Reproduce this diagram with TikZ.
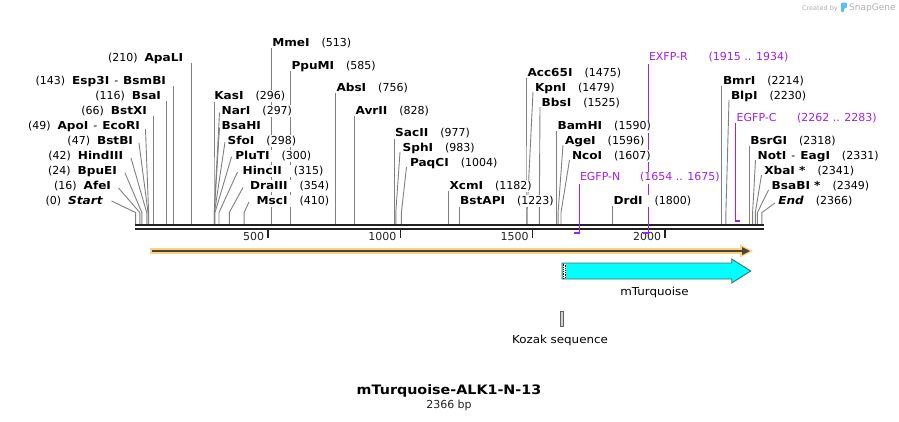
\documentclass[tikz,border=0pt]{standalone}
\usepackage{fontspec}
\setmainfont{DejaVu Sans}[BoldFeatures={FakeStretch=1.1},BoldItalicFeatures={FakeStretch=1.1}]
\newfontfamily\widefont{DejaVu Sans}[FakeStretch=1.08]
\definecolor{enzgray}{RGB}{128,128,128}
\definecolor{bbc}{RGB}{34,34,34}
\definecolor{primc}{RGB}{160,32,240}
\definecolor{orangec}{RGB}{250,210,128}
\definecolor{darkline}{RGB}{75,68,60}
\definecolor{cyanc}{RGB}{0,255,255}
\definecolor{cyanedge}{RGB}{70,110,110}
\definecolor{logoc}{RGB}{175,175,175}
\definecolor{logob}{RGB}{90,190,240}
\tikzset{
  lbl/.style={font=\fontsize{11}{13}\selectfont, inner sep=0.8pt, fill=white, text height=8.2pt, text depth=2.3pt},
  plbl/.style={lbl, text=primc},
  flbl/.style={font=\widefont\fontsize{11}{13}\selectfont, inner sep=0pt},
  enz/.style={draw=enzgray, line width=0.9pt},
  bb/.style={draw=bbc, line width=2.2pt},
  tickmark/.style={draw=bbc, line width=1.6pt},
  ticklbl/.style={font=\fontsize{11}{13}\selectfont, inner sep=0pt, text=bbc},
  primv/.style={draw=primc, line width=1.1pt},
  primh/.style={draw=primc, line width=2pt},
}
\newcommand{\mycut}[4]{\coordinate (c#1) at (#2,224); \coordinate (t#1) at (#3,#4); \draw[enz] (c#1) -- (#2,212.5) -- (t#1);}
\newcommand{\mylabL}[4]{\node[lbl,anchor=base east] (l#1) at (#2,#3+4) {#4};}
\newcommand{\mylabR}[4]{\node[lbl,anchor=base west] (l#1) at (#2,#3+4) {#4};}
\newcommand{\nmgap}{\hspace{12pt}}
\newcommand{\lgap}{\hspace{7pt}}
\newcommand{\dsh}{\hspace{5pt}-\hspace{5pt}}
\begin{document}
\begin{tikzpicture}[x=1pt,y=-1pt]
\useasboundingbox (0,0) rectangle (899,421);

% ---------- enzyme site lines ----------
\mycut{Start}{135.6}{111.5}{201}
\mycut{AfeI}{139.8}{118.5}{188}
\mycut{BpuEI}{141.9}{125}{173}
\mycut{HindIII}{146.7}{131}{158}
\mycut{BstBI}{148.0}{139}{143}
\mycut{ApoI}{148.6}{145.5}{129}
\mycut{BstXI}{153.1}{153.1}{116}
\mycut{BsaI}{166.3}{166.3}{101}
\mycut{Esp3I}{173.5}{173.5}{86}
\mycut{ApaLI}{191.2}{191.2}{63}
\mycut{KasI}{214.0}{214.0}{101}
\mycut{NarI}{214.2}{219.5}{112.5}
\mycut{BsaHI}{214.3}{219.5}{127.5}
\mycut{SfoI}{214.5}{225}{142}
\mycut{PluTI}{215.0}{231.5}{157}
\mycut{HincII}{219.0}{237.5}{172}
\mycut{DraIII}{229.3}{243}{187.5}
\mycut{MscI}{244.1}{249}{202}
\mycut{MmeI}{271.4}{271.4}{48}
\mycut{PpuMI}{290.5}{290.5}{71}
\mycut{AbsI}{335.7}{335.7}{93}
\mycut{AvrII}{354.8}{354.8}{116}
\mycut{SacII}{394.2}{394.2}{138}
\mycut{SphI}{395.8}{400}{152}
\mycut{PaqCI}{401.4}{406.5}{167}
\mycut{XcmI}{448.5}{448.5}{191}
\mycut{BstAPI}{459.3}{459.3}{206}
\mycut{Acc65I}{526.0}{526.0}{78}
\mycut{KpnI}{527.1}{533}{92}
\mycut{BbsI}{539.3}{540}{107}
\mycut{BamHI}{556.5}{556.5}{131}
\mycut{AgeI}{558.1}{563}{145}
\mycut{NcoI}{561.0}{569.5}{160}
\mycut{DrdI}{612.1}{612.1}{206}
\mycut{BmrI}{721.7}{721.7}{86}
\mycut{BlpI}{725.9}{729}{100}
\mycut{BsrGI}{749.2}{749.2}{146}
\mycut{NotI}{752.6}{755.5}{160}
\mycut{XbaI}{755.3}{761.5}{175}
\mycut{BsaBI}{757.4}{768.5}{190}
\mycut{End}{761.9}{775}{203}

% ---------- backbone ----------
\coordinate (bbL) at (135,225); \coordinate (bbR) at (764,225);
\coordinate (bbL2) at (135,229.2); \coordinate (bbR2) at (764,229.2);
\draw[bb] (bbL) -- (bbR);
\draw[bb] (bbL2) -- (bbR2);
% ticks
\foreach \tx/\tl in {268/500, 400.3/1000, 532.6/1500, 665/2000}{
  \draw[tickmark] (\tx,229) -- (\tx,237.5);
  \node[ticklbl, anchor=base east] at (\tx-3.8,240.8) {\tl};
}

% ---------- primers ----------
\coordinate (pNa) at (573.5,233.3); \coordinate (pNb) at (579.5,233.3); \coordinate (pNt) at (579.5,183);
\draw[primh] (pNa) -- (pNb);
\draw[primv] (579.5,234.3) -- (pNt);
\coordinate (pRa) at (643,233.3); \coordinate (pRb) at (648.5,233.3); \coordinate (pRt) at (648.5,63);
\draw[primh] (pRa) -- (pRb);
\draw[primv] (648.5,234.3) -- (pRt);
\coordinate (pCa) at (735.7,221); \coordinate (pCb) at (740.3,221); \coordinate (pCt) at (735.7,123);
\draw[primh] (pCa) -- (pCb);
\draw[primv] (735.7,222) -- (pCt);

% ---------- labels: left side ----------
\mylabL{Start}{104}{200}{(0)\lgap\textbf{\textit{Start}}}
\mylabL{AfeI}{112}{185}{(16)\lgap\textbf{AfeI}}
\mylabL{BpuEI}{118}{170}{(24)\lgap\textbf{BpuEI}}
\mylabL{HindIII}{124}{155}{(42)\lgap\textbf{HindIII}}
\mylabL{BstBI}{134}{140}{(47)\lgap\textbf{BstBI}}
\mylabL{ApoI}{141}{125}{(49)\lgap\textbf{ApoI}\dsh\textbf{EcoRI}}
\mylabL{BstXI}{148}{110}{(66)\lgap\textbf{BstXI}}
\mylabL{BsaI}{162}{95}{(116)\lgap\textbf{BsaI}}
\mylabL{Esp3I}{167}{80}{(143)\lgap\textbf{Esp3I}\dsh\textbf{BsmBI}}
\mylabL{ApaLI}{184}{57}{(210)\lgap\textbf{ApaLI}}

% ---------- labels: right side ----------
\mylabR{KasI}{213.3}{95}{\textbf{KasI}\nmgap(296)}
\mylabR{NarI}{220.7}{110}{\textbf{NarI}\nmgap(297)}
\mylabR{BsaHI}{220.7}{125}{\textbf{BsaHI}}
\mylabR{SfoI}{226.7}{140}{\textbf{SfoI}\nmgap(298)}
\mylabR{PluTI}{234.3}{155}{\textbf{PluTI}\nmgap(300)}
\mylabR{HincII}{241.7}{170}{\textbf{HincII}\nmgap(315)}
\mylabR{DraIII}{249}{185}{\textbf{DraIII}\nmgap(354)}
\mylabR{MscI}{255.7}{200}{\textbf{MscI}\nmgap(410)}
\mylabR{MmeI}{271.3}{42.7}{\textbf{MmeI}\nmgap(513)}
\mylabR{PpuMI}{290.5}{65}{\textbf{PpuMI}\nmgap(585)}
\mylabR{AbsI}{335.5}{87.3}{\textbf{AbsI}\nmgap(756)}
\mylabR{AvrII}{354.6}{110}{\textbf{AvrII}\nmgap(828)}
\mylabR{SacII}{394.2}{132.3}{\textbf{SacII}\nmgap(977)}
\mylabR{SphI}{401.7}{147.3}{\textbf{SphI}\nmgap(983)}
\mylabR{PaqCI}{409}{162.3}{\textbf{PaqCI}\nmgap(1004)}
\mylabR{XcmI}{448.5}{185}{\textbf{XcmI}\nmgap(1182)}
\mylabR{BstAPI}{459.2}{200}{\textbf{BstAPI}\nmgap(1223)}
\mylabR{Acc65I}{526.5}{72.3}{\textbf{Acc65I}\nmgap(1475)}
\mylabR{KpnI}{534}{87.3}{\textbf{KpnI}\nmgap(1479)}
\mylabR{BbsI}{540.7}{102.3}{\textbf{BbsI}\nmgap(1525)}
\mylabR{BamHI}{556.6}{125.7}{\textbf{BamHI}\nmgap(1590)}
\mylabR{AgeI}{564}{140}{\textbf{AgeI}\nmgap(1596)}
\mylabR{NcoI}{571}{155}{\textbf{NcoI}\nmgap(1607)}
\mylabR{DrdI}{612.5}{200}{\textbf{DrdI}\nmgap(1800)}
\mylabR{BmrI}{722}{80}{\textbf{BmrI}\nmgap(2214)}
\mylabR{BlpI}{730}{95}{\textbf{BlpI}\nmgap(2230)}
\mylabR{BsrGI}{749.3}{140}{\textbf{BsrGI}\nmgap(2318)}
\mylabR{NotI}{756.7}{155}{\textbf{NotI}\dsh\textbf{EagI}\nmgap(2331)}
\mylabR{XbaI}{763.3}{170}{\textbf{XbaI *}\nmgap(2341)}
\mylabR{BsaBI}{770.7}{185}{\textbf{BsaBI *}\nmgap(2349)}
\mylabR{End}{777.3}{200}{\textbf{\textit{End}}\nmgap(2366)}

% ---------- primer labels ----------
\node[plbl, anchor=base west] (lEGFPN) at (579,180.7) {EGFP-N};
\node[plbl, anchor=base west] (nEGFPN) at (639,180.7) {(1654 .. 1675)};
\node[plbl, anchor=base west] (lEXFPR) at (648,60.7) {EXFP-R};
\node[plbl, anchor=base west] (nEXFPR) at (707.7,60.7) {(1915 .. 1934)};
\node[plbl, anchor=base west] (lEGFPC) at (735.7,121.3) {EGFP-C};
\node[plbl, anchor=base west] (nEGFPC) at (796,121.3) {(2262 .. 2283)};

% ---------- ORF (orange) ----------
\coordinate (oL) at (150,251); \coordinate (oR) at (744,251);
\draw[draw=orangec, line width=6.5pt] (oL) -- (oR);
\fill[orangec] (740,244.5) -- (753,251) -- (740,257.5) -- cycle;
\draw[draw=darkline, line width=1.8pt] (152,251) -- (744,251);
\fill[darkline] (742,247) -- (750,251) -- (742,255) -- cycle;

% ---------- mTurquoise feature ----------
\draw[fill=cyanc, draw=cyanedge, line width=0.9pt] (562,263) -- (731.7,263) -- (731.7,259) -- (750.7,271) -- (731.7,283) -- (731.7,279) -- (562,279) -- cycle;
\fill[white] (562.6,263.6) rectangle (565.6,278.4);
\draw[black, line width=0.9pt, dash pattern=on 0.9pt off 0.9pt] (563.1,263.6) -- (563.1,278.4);
\draw[black, line width=0.9pt, dash pattern=on 0.9pt off 0.9pt, dash phase=0.9pt] (565,263.6) -- (565,278.4);
\node[flbl] (mturq) at (654.5,292.7) {mTurquoise};

% ---------- Kozak ----------
\draw[draw=gray!75!black, fill=gray!35, line width=0.6pt] (560.6,311) rectangle (562.9,326);
\node[flbl] (kozak) at (560,340) {Kozak sequence};

% ---------- title ----------
\node[font=\fontsize{13}{15}\selectfont\bfseries, inner sep=0pt] (title) at (449,390.5) {mTurquoise-ALK1-N-13};
\node[font=\fontsize{11}{13}\selectfont, inner sep=0pt, text=bbc] (bp) at (449,405) {2366 bp};

% ---------- logo ----------
\node[font=\fontsize{6.5}{7}\selectfont, text=logoc, anchor=base east, inner sep=0pt] (cby) at (838,10) {Created by};
\fill[logob, rounded corners=1pt] (841,2.5) -- (846.8,2.5) -- (846.8,8.2) -- (843.8,8.2) -- (843.8,12.2) -- (841,12.2) -- cycle;
\node[font=\fontsize{9}{10}\selectfont, text=logoc, anchor=base west, inner sep=0pt] (sg) at (849,10.8) {SnapGene};
\end{tikzpicture}
\end{document}
